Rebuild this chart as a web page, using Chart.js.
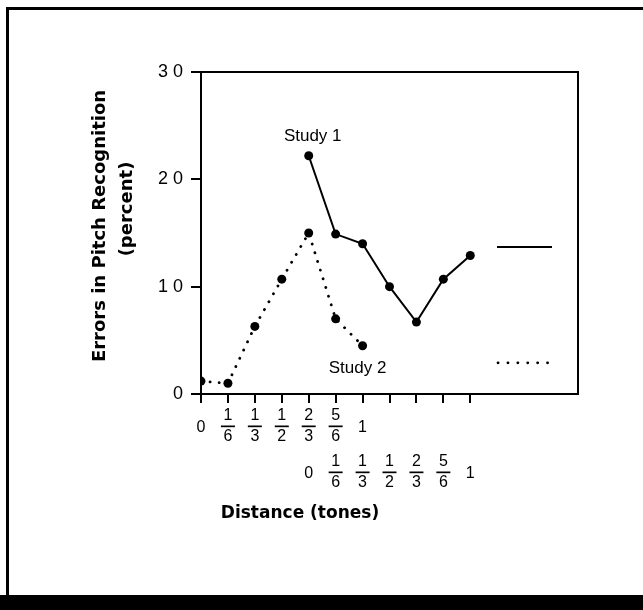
<!DOCTYPE html>
<html>
  <head>
    <meta charset="utf-8" />
    <title>Errors in Pitch Recognition</title>
    <script src="https://cdn.jsdelivr.net/npm/chart.js"></script>
    <style>
      * {
        box-sizing: border-box;
        margin: 0;
        padding: 0;
      }
      body {
        background: #fff;
        width: 643px;
        height: 610px;
        overflow: hidden;
      }
      #box {
        position: relative;
        width: 643px;
        height: 610px;
      }
    </style>
  </head>
  <body>
    <div id="box">
      <canvas id="chart"></canvas>
    </div>

    <script>
      // tick labels (tones) - the two studies use shifted axes
      const study2Ticks = ["0", "1/6", "1/3", "1/2", "2/3", "5/6", "1"];
      const study1Ticks = ["0", "1/6", "1/3", "1/2", "2/3", "5/6", "1"];
      const study1Offset = 4; // study 1 axis starts under the 5th tick

      // errors in pitch recognition (percent)
      const study1Values = [22.2, 14.9, 14.0, 10.0, 6.7, 10.7, 12.9];
      const study2Values = [1.2, 1.0, 6.3, 10.7, 15.0, 7.0, 4.5];

      const yTicks = [0, 10, 20, 30];

      const FONT = "'Liberation Sans', Arial, sans-serif";
      const TITLE_FONT = "'DejaVu Sans', 'Liberation Sans', sans-serif";

      const study1Data = study1Values.map((v, i) => ({ x: i + study1Offset, y: v }));
      const study2Data = study2Values.map((v, i) => ({ x: i, y: v }));
      const tickCount = study1Offset + study1Ticks.length; // 11 ticks

      // draws "a/b" as a stacked fraction centred on its bar
      function drawTickLabel(ctx, label, x, y) {
        const parts = label.split("/");
        ctx.fillStyle = "#000";
        ctx.textAlign = "center";
        ctx.textBaseline = "middle";
        ctx.font = "16px " + FONT;
        if (parts.length === 1) {
          ctx.fillText(label, x, y + 2);
          return;
        }
        ctx.fillText(parts[0], x, y - 10);
        ctx.fillText(parts[1], x, y + 11);
        ctx.fillRect(x - 7, y - 0.5, 14, 1.7);
      }

      const framePlugin = {
        id: "frame",
        beforeDraw(chart) {
          const ctx = chart.ctx;
          ctx.save();
          ctx.fillStyle = "#fff";
          ctx.fillRect(0, 0, chart.width, chart.height);
          // outer border of the figure
          ctx.fillStyle = "#000";
          ctx.fillRect(6, 7, 3, 590);
          ctx.fillRect(6, 7, chart.width - 6, 3);
          ctx.fillRect(0, 595, chart.width, 15);
          ctx.restore();
          // wide spacing for the y tick numbers ("3 0")
          ctx.letterSpacing = "5px";
        },
        afterDraw(chart) {
          const ctx = chart.ctx;
          const a = chart.chartArea;
          const xs = chart.scales.x;
          const ys = chart.scales.y;
          ctx.letterSpacing = "0px";
          ctx.save();
          // top and right sides of the plot box
          ctx.strokeStyle = "#000";
          ctx.lineWidth = 2;
          ctx.beginPath();
          ctx.moveTo(a.left, a.top);
          ctx.lineTo(a.right, a.top);
          ctx.lineTo(a.right, a.bottom);
          ctx.stroke();

          // two rows of fraction tick labels
          study2Ticks.forEach((t, i) => {
            drawTickLabel(ctx, t, xs.getPixelForValue(i), a.bottom + 32);
          });
          study1Ticks.forEach((t, i) => {
            drawTickLabel(ctx, t, xs.getPixelForValue(i + study1Offset), a.bottom + 78);
          });

          // series labels
          ctx.font = "17px " + FONT;
          ctx.textAlign = "center";
          ctx.textBaseline = "middle";
          const p1 = chart.getDatasetMeta(0).data[0];
          ctx.fillText("Study 1", p1.x + 4, p1.y - 19);
          const p2 = chart.getDatasetMeta(1).data[study2Values.length - 1];
          ctx.fillText("Study 2", p2.x - 5, p2.y + 23);

          // line samples at the right
          ctx.lineWidth = 2;
          ctx.beginPath();
          ctx.moveTo(a.right - 81, ys.getPixelForValue(13.7));
          ctx.lineTo(a.right - 26, ys.getPixelForValue(13.7));
          ctx.stroke();
          ctx.lineWidth = 2.8;
          ctx.lineCap = "round";
          ctx.setLineDash([0.1, 9.8]);
          ctx.beginPath();
          ctx.moveTo(a.right - 80, ys.getPixelForValue(2.9));
          ctx.lineTo(a.right - 26, ys.getPixelForValue(2.9));
          ctx.stroke();
          ctx.setLineDash([]);

          // axis titles
          ctx.font = "bold 17px " + TITLE_FONT;
          ctx.fillText("Distance (tones)", a.left + 99, 514);
          ctx.font = "bold 18px " + TITLE_FONT;
          ctx.save();
          ctx.translate(100, 226);
          ctx.rotate(-Math.PI / 2);
          ctx.fillText("Errors in Pitch Recognition", 0, 0);
          ctx.restore();
          ctx.translate(127, 209);
          ctx.rotate(-Math.PI / 2);
          ctx.fillText("(percent)", 0, 0);
          ctx.restore();
        },
      };

      new Chart(document.getElementById("chart"), {
        type: "line",
        data: {
          datasets: [
            {
              label: "Study 1",
              data: study1Data,
              borderColor: "#000",
              backgroundColor: "#000",
              borderWidth: 2,
              pointRadius: 4.5,
              pointBackgroundColor: "#000",
              pointBorderWidth: 0,
            },
            {
              label: "Study 2",
              data: study2Data,
              borderColor: "#000",
              backgroundColor: "#000",
              borderWidth: 2.8,
              borderDash: [0.1, 9],
              borderCapStyle: "round",
              pointRadius: 4.5,
              pointBackgroundColor: "#000",
              pointBorderWidth: 0,
            },
          ],
        },
        options: {
          responsive: true,
          maintainAspectRatio: false,
          animation: false,
          layout: {
            padding: { left: 0, top: 72, right: 65, bottom: 0 },
          },
          plugins: {
            legend: { display: false },
            tooltip: { enabled: false },
          },
          scales: {
            x: {
              type: "linear",
              min: 0,
              max: 14,
              afterFit(scale) {
                scale.height = 216;
              },
              afterBuildTicks(scale) {
                scale.ticks = [];
                for (let i = 0; i < tickCount; i++) scale.ticks.push({ value: i });
              },
              border: { display: true, color: "#000", width: 2 },
              grid: {
                drawOnChartArea: false,
                color: "#000",
                lineWidth: 2,
                tickLength: 9,
              },
              ticks: { display: false },
            },
            y: {
              min: 0,
              max: 30,
              afterFit(scale) {
                scale.width = 201;
              },
              afterBuildTicks(scale) {
                scale.ticks = yTicks.map((v) => ({ value: v }));
              },
              border: { display: true, color: "#000", width: 2 },
              grid: {
                drawOnChartArea: false,
                color: "#000",
                lineWidth: 2,
                tickLength: 10,
              },
              ticks: {
                color: "#000",
                padding: 3,
                font: { family: FONT, size: 18 },
              },
            },
          },
        },
        plugins: [framePlugin],
      });
    </script>
  </body>
</html>
